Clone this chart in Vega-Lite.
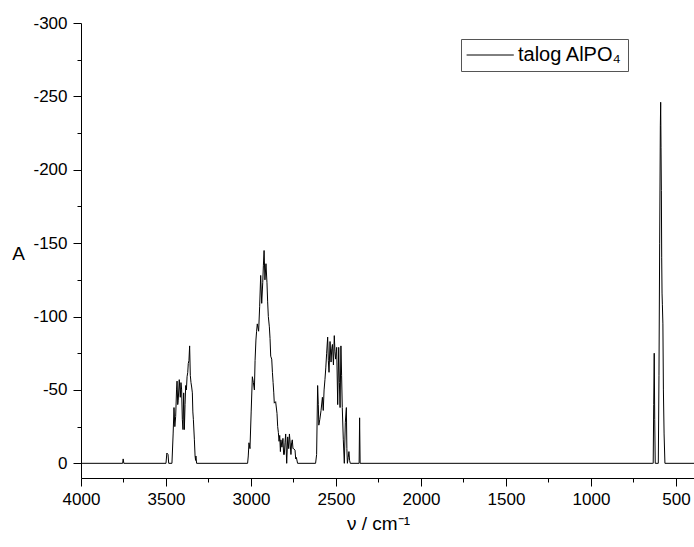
{
  "$schema": "https://vega.github.io/schema/vega-lite/v6.json",
  "width": 613,
  "height": 455,
  "autosize": {"type": "none"},
  "padding": {"left": 81, "top": 23, "right": 0, "bottom": 69},
  "background": "white",
  "config": {"view": {"stroke": null}, "font": "Liberation Sans"},
  "data": {"values": [
    {"wn": 4000, "a": 0, "s": "talog AlPO₄"},
    {"wn": 3755, "a": 0, "s": "talog AlPO₄"},
    {"wn": 3752, "a": -3, "s": "talog AlPO₄"},
    {"wn": 3748, "a": 0, "s": "talog AlPO₄"},
    {"wn": 3500, "a": 0, "s": "talog AlPO₄"},
    {"wn": 3495, "a": -7, "s": "talog AlPO₄"},
    {"wn": 3488, "a": -6, "s": "talog AlPO₄"},
    {"wn": 3484, "a": 0, "s": "talog AlPO₄"},
    {"wn": 3465, "a": 0, "s": "talog AlPO₄"},
    {"wn": 3458, "a": -20, "s": "talog AlPO₄"},
    {"wn": 3453, "a": -38, "s": "talog AlPO₄"},
    {"wn": 3448, "a": -25, "s": "talog AlPO₄"},
    {"wn": 3443, "a": -32, "s": "talog AlPO₄"},
    {"wn": 3438, "a": -50, "s": "talog AlPO₄"},
    {"wn": 3435, "a": -56, "s": "talog AlPO₄"},
    {"wn": 3431, "a": -40, "s": "talog AlPO₄"},
    {"wn": 3428, "a": -43, "s": "talog AlPO₄"},
    {"wn": 3422, "a": -57, "s": "talog AlPO₄"},
    {"wn": 3416, "a": -45, "s": "talog AlPO₄"},
    {"wn": 3412, "a": -55, "s": "talog AlPO₄"},
    {"wn": 3408, "a": -50, "s": "talog AlPO₄"},
    {"wn": 3404, "a": -30, "s": "talog AlPO₄"},
    {"wn": 3400, "a": -23, "s": "talog AlPO₄"},
    {"wn": 3396, "a": -48, "s": "talog AlPO₄"},
    {"wn": 3392, "a": -23, "s": "talog AlPO₄"},
    {"wn": 3388, "a": -40, "s": "talog AlPO₄"},
    {"wn": 3384, "a": -53, "s": "talog AlPO₄"},
    {"wn": 3380, "a": -50, "s": "talog AlPO₄"},
    {"wn": 3376, "a": -59, "s": "talog AlPO₄"},
    {"wn": 3372, "a": -62, "s": "talog AlPO₄"},
    {"wn": 3369, "a": -68, "s": "talog AlPO₄"},
    {"wn": 3365, "a": -70, "s": "talog AlPO₄"},
    {"wn": 3361, "a": -80, "s": "talog AlPO₄"},
    {"wn": 3357, "a": -60, "s": "talog AlPO₄"},
    {"wn": 3353, "a": -55, "s": "talog AlPO₄"},
    {"wn": 3349, "a": -52, "s": "talog AlPO₄"},
    {"wn": 3345, "a": -48, "s": "talog AlPO₄"},
    {"wn": 3342, "a": -35, "s": "talog AlPO₄"},
    {"wn": 3339, "a": -30, "s": "talog AlPO₄"},
    {"wn": 3333, "a": -16, "s": "talog AlPO₄"},
    {"wn": 3329, "a": -5, "s": "talog AlPO₄"},
    {"wn": 3326, "a": -2, "s": "talog AlPO₄"},
    {"wn": 3324, "a": -5, "s": "talog AlPO₄"},
    {"wn": 3320, "a": 0, "s": "talog AlPO₄"},
    {"wn": 3020, "a": 0, "s": "talog AlPO₄"},
    {"wn": 3016, "a": -5, "s": "talog AlPO₄"},
    {"wn": 3012, "a": -14, "s": "talog AlPO₄"},
    {"wn": 3006, "a": -10, "s": "talog AlPO₄"},
    {"wn": 2999, "a": -35, "s": "talog AlPO₄"},
    {"wn": 2992, "a": -59, "s": "talog AlPO₄"},
    {"wn": 2986, "a": -55, "s": "talog AlPO₄"},
    {"wn": 2980, "a": -50, "s": "talog AlPO₄"},
    {"wn": 2976, "a": -70, "s": "talog AlPO₄"},
    {"wn": 2971, "a": -84, "s": "talog AlPO₄"},
    {"wn": 2967, "a": -90, "s": "talog AlPO₄"},
    {"wn": 2963, "a": -95, "s": "talog AlPO₄"},
    {"wn": 2955, "a": -90, "s": "talog AlPO₄"},
    {"wn": 2949, "a": -107, "s": "talog AlPO₄"},
    {"wn": 2943, "a": -128, "s": "talog AlPO₄"},
    {"wn": 2937, "a": -109, "s": "talog AlPO₄"},
    {"wn": 2931, "a": -123, "s": "talog AlPO₄"},
    {"wn": 2927, "a": -135, "s": "talog AlPO₄"},
    {"wn": 2923, "a": -145, "s": "talog AlPO₄"},
    {"wn": 2918, "a": -125, "s": "talog AlPO₄"},
    {"wn": 2912, "a": -136, "s": "talog AlPO₄"},
    {"wn": 2906, "a": -123, "s": "talog AlPO₄"},
    {"wn": 2902, "a": -110, "s": "talog AlPO₄"},
    {"wn": 2898, "a": -100, "s": "talog AlPO₄"},
    {"wn": 2892, "a": -93, "s": "talog AlPO₄"},
    {"wn": 2888, "a": -85, "s": "talog AlPO₄"},
    {"wn": 2884, "a": -73, "s": "talog AlPO₄"},
    {"wn": 2878, "a": -71, "s": "talog AlPO₄"},
    {"wn": 2874, "a": -62, "s": "talog AlPO₄"},
    {"wn": 2870, "a": -55, "s": "talog AlPO₄"},
    {"wn": 2866, "a": -48, "s": "talog AlPO₄"},
    {"wn": 2863, "a": -41, "s": "talog AlPO₄"},
    {"wn": 2855, "a": -42, "s": "talog AlPO₄"},
    {"wn": 2847, "a": -34, "s": "talog AlPO₄"},
    {"wn": 2843, "a": -25, "s": "talog AlPO₄"},
    {"wn": 2839, "a": -21, "s": "talog AlPO₄"},
    {"wn": 2835, "a": -15, "s": "talog AlPO₄"},
    {"wn": 2831, "a": -19, "s": "talog AlPO₄"},
    {"wn": 2827, "a": -8, "s": "talog AlPO₄"},
    {"wn": 2824, "a": -16, "s": "talog AlPO₄"},
    {"wn": 2818, "a": -11, "s": "talog AlPO₄"},
    {"wn": 2812, "a": -17, "s": "talog AlPO₄"},
    {"wn": 2808, "a": -6, "s": "talog AlPO₄"},
    {"wn": 2804, "a": -6, "s": "talog AlPO₄"},
    {"wn": 2800, "a": -14, "s": "talog AlPO₄"},
    {"wn": 2796, "a": -20, "s": "talog AlPO₄"},
    {"wn": 2790, "a": 0, "s": "talog AlPO₄"},
    {"wn": 2784, "a": -18, "s": "talog AlPO₄"},
    {"wn": 2778, "a": -10, "s": "talog AlPO₄"},
    {"wn": 2774, "a": -20, "s": "talog AlPO₄"},
    {"wn": 2771, "a": -16, "s": "talog AlPO₄"},
    {"wn": 2765, "a": -6, "s": "talog AlPO₄"},
    {"wn": 2761, "a": -14, "s": "talog AlPO₄"},
    {"wn": 2757, "a": -16, "s": "talog AlPO₄"},
    {"wn": 2753, "a": -10, "s": "talog AlPO₄"},
    {"wn": 2749, "a": -10, "s": "talog AlPO₄"},
    {"wn": 2741, "a": -9, "s": "talog AlPO₄"},
    {"wn": 2737, "a": -3, "s": "talog AlPO₄"},
    {"wn": 2733, "a": -4, "s": "talog AlPO₄"},
    {"wn": 2726, "a": 0, "s": "talog AlPO₄"},
    {"wn": 2620, "a": 0, "s": "talog AlPO₄"},
    {"wn": 2614, "a": -6, "s": "talog AlPO₄"},
    {"wn": 2608, "a": -53, "s": "talog AlPO₄"},
    {"wn": 2604, "a": -40, "s": "talog AlPO₄"},
    {"wn": 2601, "a": -26, "s": "talog AlPO₄"},
    {"wn": 2595, "a": -30, "s": "talog AlPO₄"},
    {"wn": 2588, "a": -36, "s": "talog AlPO₄"},
    {"wn": 2580, "a": -45, "s": "talog AlPO₄"},
    {"wn": 2575, "a": -36, "s": "talog AlPO₄"},
    {"wn": 2570, "a": -50, "s": "talog AlPO₄"},
    {"wn": 2565, "a": -57, "s": "talog AlPO₄"},
    {"wn": 2560, "a": -65, "s": "talog AlPO₄"},
    {"wn": 2555, "a": -75, "s": "talog AlPO₄"},
    {"wn": 2549, "a": -86, "s": "talog AlPO₄"},
    {"wn": 2545, "a": -70, "s": "talog AlPO₄"},
    {"wn": 2541, "a": -62, "s": "talog AlPO₄"},
    {"wn": 2535, "a": -83, "s": "talog AlPO₄"},
    {"wn": 2529, "a": -69, "s": "talog AlPO₄"},
    {"wn": 2525, "a": -78, "s": "talog AlPO₄"},
    {"wn": 2521, "a": -81, "s": "talog AlPO₄"},
    {"wn": 2515, "a": -67, "s": "talog AlPO₄"},
    {"wn": 2510, "a": -87, "s": "talog AlPO₄"},
    {"wn": 2506, "a": -76, "s": "talog AlPO₄"},
    {"wn": 2502, "a": -71, "s": "talog AlPO₄"},
    {"wn": 2496, "a": -79, "s": "talog AlPO₄"},
    {"wn": 2490, "a": -40, "s": "talog AlPO₄"},
    {"wn": 2484, "a": -79, "s": "talog AlPO₄"},
    {"wn": 2480, "a": -55, "s": "talog AlPO₄"},
    {"wn": 2476, "a": -38, "s": "talog AlPO₄"},
    {"wn": 2471, "a": -80, "s": "talog AlPO₄"},
    {"wn": 2467, "a": -60, "s": "talog AlPO₄"},
    {"wn": 2463, "a": -38, "s": "talog AlPO₄"},
    {"wn": 2457, "a": -16, "s": "talog AlPO₄"},
    {"wn": 2451, "a": 0, "s": "talog AlPO₄"},
    {"wn": 2445, "a": -28, "s": "talog AlPO₄"},
    {"wn": 2439, "a": -38, "s": "talog AlPO₄"},
    {"wn": 2436, "a": -10, "s": "talog AlPO₄"},
    {"wn": 2433, "a": 0, "s": "talog AlPO₄"},
    {"wn": 2428, "a": -4, "s": "talog AlPO₄"},
    {"wn": 2424, "a": -8, "s": "talog AlPO₄"},
    {"wn": 2420, "a": -2, "s": "talog AlPO₄"},
    {"wn": 2416, "a": 0, "s": "talog AlPO₄"},
    {"wn": 2364, "a": 0, "s": "talog AlPO₄"},
    {"wn": 2361, "a": -31, "s": "talog AlPO₄"},
    {"wn": 2358, "a": 0, "s": "talog AlPO₄"},
    {"wn": 640, "a": 0, "s": "talog AlPO₄"},
    {"wn": 634, "a": 0, "s": "talog AlPO₄"},
    {"wn": 631, "a": -40, "s": "talog AlPO₄"},
    {"wn": 628, "a": -75, "s": "talog AlPO₄"},
    {"wn": 625, "a": -30, "s": "talog AlPO₄"},
    {"wn": 622, "a": 0, "s": "talog AlPO₄"},
    {"wn": 604, "a": 0, "s": "talog AlPO₄"},
    {"wn": 600, "a": -60, "s": "talog AlPO₄"},
    {"wn": 596, "a": -150, "s": "talog AlPO₄"},
    {"wn": 592, "a": -230, "s": "talog AlPO₄"},
    {"wn": 590, "a": -246, "s": "talog AlPO₄"},
    {"wn": 588, "a": -215, "s": "talog AlPO₄"},
    {"wn": 586, "a": -186, "s": "talog AlPO₄"},
    {"wn": 584, "a": -140, "s": "talog AlPO₄"},
    {"wn": 582, "a": -116, "s": "talog AlPO₄"},
    {"wn": 580, "a": -108, "s": "talog AlPO₄"},
    {"wn": 577, "a": -95, "s": "talog AlPO₄"},
    {"wn": 574, "a": -50, "s": "talog AlPO₄"},
    {"wn": 570, "a": -20, "s": "talog AlPO₄"},
    {"wn": 565, "a": 0, "s": "talog AlPO₄"},
    {"wn": 394, "a": 0, "s": "talog AlPO₄"}
  ]},
  "mark": {"type": "line", "strokeWidth": 1, "interpolate": "linear"},
  "encoding": {
    "x": {
      "field": "wn", "type": "quantitative",
      "scale": {"domain": [394, 4000], "reverse": true, "nice": false, "zero": false},
      "axis": {
        "values": [4000, 3750, 3500, 3250, 3000, 2750, 2500, 2250, 2000, 1750, 1500, 1250, 1000, 750, 500],
        "labelExpr": "datum.value % 500 === 0 ? '' + datum.value : ''",
        "grid": false,
        "domainColor": "black", "domainWidth": 1,
        "tickColor": "black", "tickWidth": 1,
        "tickSize": {"condition": {"test": "datum.value % 500 !== 0", "value": 4}, "value": 8},
        "labelFont": "Liberation Sans", "labelFontSize": 17, "labelColor": "black",
        "labelPadding": 5, "labelFlush": false, "labelOverlap": false,
        "title": "ν / cm⁻¹",
        "titleFont": "Liberation Sans", "titleFontSize": 19, "titleFontWeight": "normal", "titleColor": "black",
        "titleX": 297, "titleY": 45, "titleBaseline": "middle", "titleAnchor": null, "titleAlign": "center"
      }
    },
    "y": {
      "field": "a", "type": "quantitative",
      "scale": {"domain": [-300, 10], "reverse": true, "nice": false, "zero": false},
      "axis": {
        "values": [-300, -275, -250, -225, -200, -175, -150, -125, -100, -75, -50, -25, 0],
        "labelExpr": "datum.value % 50 === 0 ? '' + datum.value : ''",
        "grid": false,
        "domainColor": "black", "domainWidth": 1,
        "tickColor": "black", "tickWidth": 1,
        "tickSize": {"condition": {"test": "datum.value % 50 !== 0", "value": 4}, "value": 8},
        "labelFont": "Liberation Sans", "labelFontSize": 17, "labelColor": "black",
        "labelPadding": 6, "labelFlush": false, "labelOverlap": false,
        "title": "A",
        "titleFont": "Liberation Sans", "titleFontSize": 19, "titleFontWeight": "normal", "titleColor": "black",
        "titleAngle": 0, "titleX": -63, "titleY": 230, "titleBaseline": "middle", "titleAlign": "center", "titleAnchor": null
      }
    },
    "color": {
      "field": "s", "type": "nominal",
      "scale": {"range": ["black"]},
      "legend": {
        "orient": "none", "legendX": 380, "legendY": 16,
        "title": null,
        "symbolType": "M-1.3,0H4.6", "symbolSize": 256, "symbolStrokeWidth": 1, "symbolStrokeColor": "black",
        "labelFont": "Liberation Sans", "labelFontSize": 20, "labelColor": "black", "labelOffset": 31,
        "strokeColor": "#555", "fillColor": "white", "padding": 6
      }
    }
  }
}
